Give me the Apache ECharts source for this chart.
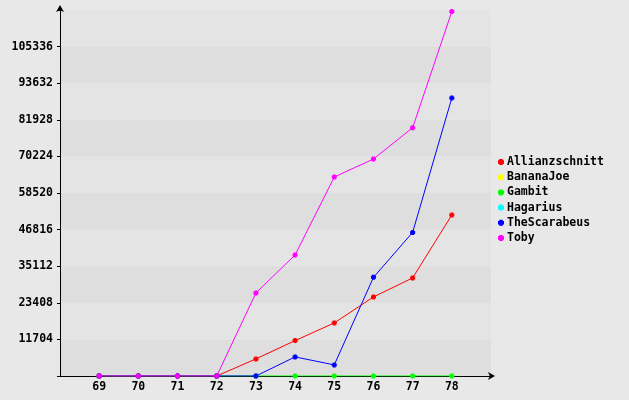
<!DOCTYPE html>
<html>
<head>
<meta charset="utf-8">
<script src="https://cdn.jsdelivr.net/npm/echarts@6/dist/echarts.min.js"></script>
<style>
html,body{margin:0;padding:0;background:#e8e8e8;}
#chart{width:629px;height:400px;}
</style>
</head>
<body>
<div id="chart"></div>
<script>
const categories = [69, 70, 71, 72, 73, 74, 75, 76, 77, 78];
const seriesNames = ['Allianzschnitt', 'BananaJoe', 'Gambit', 'Hagarius', 'TheScarabeus', 'Toby'];
const allianzschnitt = [0, 0, 0, 0, 5465, 11314, 16972, 25282, 31354, 51489];
const bananaJoe = [null, null, null, null, null, null, null, null, null, null];
const gambit = [0, 0, 0, 0, 0, 0, 0, 0, 0, 0];
const hagarius = [null, null, null, null, null, null, null, null, null, null];
const theScarabeus = [0, 0, 0, 0, 0, 6105, 3548, 31545, 45928, 88885];
const toby = [0, 0, 0, 0, 26560, 38705, 63634, 69386, 79392, 116560];
const yTickStep = 11704;
const yMax = 117040;
const xMin = 68, xMax = 79;

const colors = ['#ff0000', '#ffff00', '#00ff00', '#00ffff', '#0000ff', '#ff00ff'];
const values = [allianzschnitt, bananaJoe, gambit, hagarius, theScarabeus, toby];
const markerPath = 'path://M1,0H4V1H5V4H4V5H1V4H0V1H1Z';
const font = '"DejaVu Sans Mono", monospace';

const chart = echarts.init(document.getElementById('chart'), null, {renderer: 'canvas'});
chart.setOption({
  animation: false,
  backgroundColor: '#e8e8e8',
  color: colors,
  grid: {left: 60, right: 138, top: 10, bottom: 24, containLabel: false},
  legend: {
    orient: 'vertical',
    left: 493,
    top: 151,
    itemWidth: 6,
    itemHeight: 6,
    itemGap: 3.2,
    icon: markerPath,
    data: seriesNames,
    textStyle: {fontFamily: font, fontWeight: 'bold', fontSize: 11.5, color: '#000', lineHeight: 12, padding: [0,0,0,-2]}
  },
  xAxis: {
    type: 'value',
    min: xMin, max: xMax, interval: 1,
    axisLine: {show: true, lineStyle: {color: '#000', width: 1}, symbol: ['none', 'arrow'], symbolSize: [6, 7], symbolOffset: [0, 4]},
    axisTick: {show: false},
    splitLine: {show: false},
    axisLabel: {
      fontFamily: font, fontWeight: 'bold', fontSize: 11.5, color: '#000', margin: 5,
      formatter: v => categories.indexOf(v) >= 0 ? String(v) : ''
    }
  },
  yAxis: {
    type: 'value',
    min: 0, max: yMax, interval: yTickStep,
    axisLine: {show: true, lineStyle: {color: '#000', width: 1}, symbol: ['none', 'arrow'], symbolSize: [6, 7], symbolOffset: [0, 5]},
    axisTick: {show: true, length: 3, lineStyle: {color: '#000'}},
    splitLine: {show: false},
    splitArea: {show: true, areaStyle: {color: ['#dedede', '#e4e4e4']}},
    axisLabel: {
      fontFamily: font, fontWeight: 'bold', fontSize: 11.5, color: '#000', margin: 7,
      formatter: v => (v === 0 || v === yMax) ? '' : String(v)
    }
  },
  series: seriesNames.map((name, i) => ({
    name: name,
    type: 'line',
    data: categories.map((c, j) => [c, values[i][j]]),
    symbol: markerPath,
    symbolSize: 5,
    showSymbol: true,
    lineStyle: {width: 1, color: colors[i]},
    itemStyle: {color: colors[i]},
    connectNulls: false
  }))
});
</script>
</body>
</html>
